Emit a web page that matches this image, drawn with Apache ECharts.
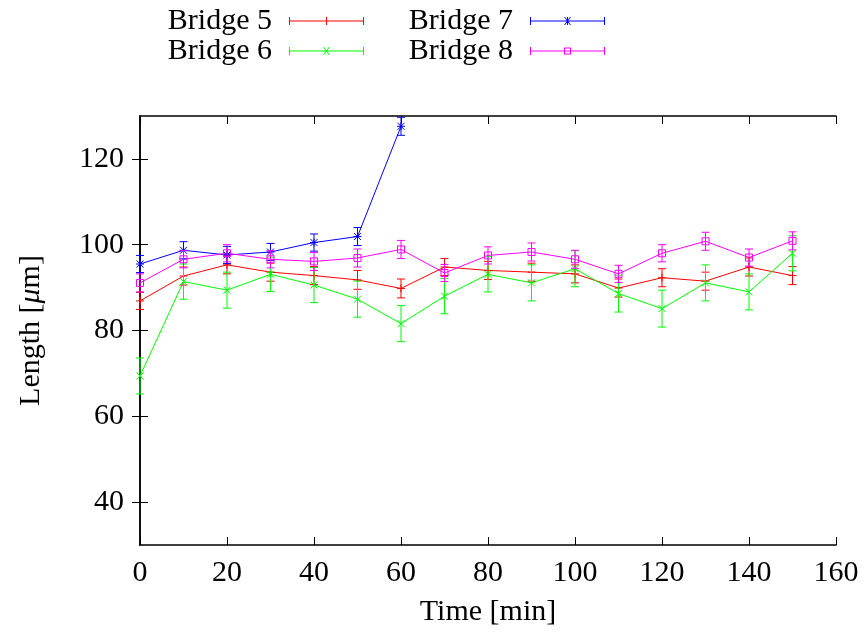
<!DOCTYPE html>
<html>
<head>
<meta charset="utf-8">
<script src="https://cdn.jsdelivr.net/npm/echarts@6/dist/echarts.min.js"></script>
<style>
  html, body { margin: 0; padding: 0; background: #fff; }
  #chart { width: 866px; height: 632px; }
</style>
</head>
<body>
<div id="chart"></div>
<script>
// Sampling times [min]
const time = [0, 10, 20, 30, 40, 50, 60, 70, 80, 90, 100, 110, 120, 130, 140, 150];

// Bridge lengths [µm] and their error bars
const bridge5Len = [86.9, 92.7, 95.3, 93.6, 92.8, 91.8, 89.8, 94.8, 94.0, 93.6, 93.2, 89.9, 92.3, 91.5, 94.8, 92.8];
const bridge5Err = [2.0, 2.1, 2.1, 2.1, 2.1, 2.2, 2.2, 2.0, 2.1, 2.1, 2.1, 2.1, 2.1, 2.1, 2.1, 2.1];

const bridge6Len = [69.4, 91.4, 89.4, 93.1, 90.6, 87.3, 81.6, 88.0, 93.1, 91.1, 94.4, 88.6, 85.1, 91.1, 89.0, 98.0];
const bridge6Err = [4.2, 4.1, 4.2, 4.0, 4.1, 4.2, 4.2, 4.1, 4.1, 4.2, 4.2, 4.3, 4.3, 4.2, 4.2, 4.1];

const bridge7Time = [0, 10, 20, 30, 40, 50, 60];
const bridge7Len = [95.5, 98.7, 97.6, 98.3, 100.5, 101.9, 127.6];
const bridge7Err = [2.0, 2.0, 2.0, 2.0, 2.0, 2.1, 2.1];

const bridge8Len = [91.1, 96.6, 98.0, 96.6, 96.1, 96.9, 98.9, 93.4, 97.5, 98.3, 96.6, 93.2, 98.0, 100.8, 97.0, 100.9];
const bridge8Err = [2.1, 2.0, 2.0, 2.0, 2.1, 2.1, 2.1, 2.0, 2.0, 2.1, 2.1, 2.0, 2.0, 2.1, 2.0, 2.1];

const yTickValues = [40, 60, 80, 100, 120];

const FONT = '"Liberation Serif", "Times New Roman", serif';
const FS = 30;

// Legend sample glyphs: error-bar line with end caps and the point marker
const BAR = 'M0 3.5H75V4.5H0Z M0 0H1V8H0Z M74 0H75V8H74Z';
const PLUS = 'M37 0H38V8H37Z';
const CROSS = 'M34 0L35 0L41 8L40 8Z M40 0L41 0L35 8L34 8Z';
const SQUARE = 'M34 0.5H41V7.5H34Z M35 1.5V6.5H40V1.5Z';
const icons = {
  plus: 'path://' + BAR + ' ' + PLUS,
  cross: 'path://' + BAR + ' ' + CROSS,
  star: 'path://' + BAR + ' ' + PLUS + ' ' + CROSS,
  square: 'path://' + BAR + ' ' + SQUARE
};

const series = [
  { name: 'Bridge 5', color: '#ff0000', t: time, v: bridge5Len, e: bridge5Err, marker: 'plus' },
  { name: 'Bridge 6', color: '#00ff00', t: time, v: bridge6Len, e: bridge6Err, marker: 'cross' },
  { name: 'Bridge 7', color: '#0000ff', t: bridge7Time, v: bridge7Len, e: bridge7Err, marker: 'star' },
  { name: 'Bridge 8', color: '#ff00ff', t: time, v: bridge8Len, e: bridge8Err, marker: 'square' }
];

function markerShapes(kind, x, y, color) {
  const s = 4;
  const st = { stroke: color, lineWidth: 1, fill: null };
  const out = [];
  const ln = (x1, y1, x2, y2) => out.push({ type: 'line', shape: { x1, y1, x2, y2 }, style: st });
  if (kind === 'plus' || kind === 'star') {
    ln(x - s, y, x + s, y);
    ln(x, y - s, x, y + s);
  }
  if (kind === 'cross' || kind === 'star') {
    ln(x - s + 0.5, y - s + 0.5, x + s - 0.5, y + s - 0.5);
    ln(x - s + 0.5, y + s - 0.5, x + s - 0.5, y - s + 0.5);
  }
  if (kind === 'square') {
    out.push({ type: 'rect', shape: { x: x - 3.5, y: y - 3.5, width: 7, height: 7 }, style: st });
  }
  return out;
}

function errorBarRenderer(color, marker) {
  return function (params, api) {
    const t = api.value(0), v = api.value(1), e = api.value(2);
    const c = api.coord([t, v]);
    const lo = api.coord([t, v - e]);
    const hi = api.coord([t, v + e]);
    const cap = 4;
    const st = { stroke: color, lineWidth: 1 };
    const children = [
      { type: 'line', shape: { x1: c[0], y1: lo[1], x2: c[0], y2: hi[1] }, style: st },
      { type: 'line', shape: { x1: c[0] - cap, y1: lo[1], x2: c[0] + cap, y2: lo[1] }, style: st },
      { type: 'line', shape: { x1: c[0] - cap, y1: hi[1], x2: c[0] + cap, y2: hi[1] }, style: st }
    ].concat(markerShapes(marker, c[0], c[1], color));
    return { type: 'group', children };
  };
}

const chartSeries = [];
series.forEach(s => {
  chartSeries.push({
    name: s.name,
    type: 'line',
    xAxisIndex: 0,
    yAxisIndex: 0,
    data: s.t.map((t, i) => [t, s.v[i]]),
    showSymbol: false,
    symbol: 'none',
    itemStyle: { color: s.color },
    lineStyle: { color: s.color, width: 1 },
    animation: false,
    z: 2
  });
  chartSeries.push({
    name: s.name,
    type: 'custom',
    xAxisIndex: 0,
    yAxisIndex: 0,
    data: s.t.map((t, i) => [t, s.v[i], s.e[i]]),
    encode: { x: 0, y: 1 },
    itemStyle: { color: s.color },
    renderItem: errorBarRenderer(s.color, s.marker),
    animation: false,
    z: 3
  });
});

function legendItem(s) {
  return { name: s.name, icon: icons[s.marker], itemStyle: { color: s.color, borderWidth: 0 } };
}

const legendCommon = {
  orient: 'vertical',
  align: 'right',
  top: 6,
  itemWidth: 75,
  itemHeight: 8,
  itemGap: 0,
  padding: 0,
  selectedMode: false,
  textStyle: { fontFamily: FONT, fontSize: FS, color: '#000', lineHeight: 28, padding: [0, 12, 0, 0] }
};

const axisLineStyle = { lineStyle: { color: '#000', width: 1.5 } };
const tickStyle = { inside: true, length: 8, lineStyle: { color: '#000', width: 1 } };

const option = {
  backgroundColor: '#fff',
  animation: false,
  grid: { left: 140, right: 30, top: 116, bottom: 86 },
  legend: [
    Object.assign({}, legendCommon, { right: 502, data: [legendItem(series[0]), legendItem(series[1])] }),
    Object.assign({}, legendCommon, { right: 261, data: [legendItem(series[2]), legendItem(series[3])] })
  ],
  xAxis: [
    {
      type: 'value', position: 'bottom', min: 0, max: 160, interval: 20,
      name: 'Time [min]', nameLocation: 'middle', nameGap: 52,
      nameTextStyle: { fontFamily: FONT, fontSize: FS, color: '#000' },
      axisLine: axisLineStyle, axisTick: tickStyle,
      axisLabel: { fontFamily: FONT, fontSize: FS, color: '#000', margin: 13 },
      splitLine: { show: false }
    },
    {
      type: 'value', position: 'top', min: 0, max: 160, interval: 20,
      axisLine: axisLineStyle, axisTick: tickStyle,
      axisLabel: { show: false }, splitLine: { show: false }
    }
  ],
  yAxis: [
    {
      type: 'value', position: 'left', min: 30, max: 130,
      name: 'Length [{i|μ}m]', nameLocation: 'middle', nameGap: 94, nameRotate: 90,
      nameTextStyle: {
        fontFamily: FONT, fontSize: FS, color: '#000',
        rich: { i: { fontFamily: FONT, fontSize: FS, fontStyle: 'italic', color: '#000' } }
      },
      axisLine: axisLineStyle,
      axisTick: Object.assign({}, tickStyle, { customValues: yTickValues }),
      axisLabel: { fontFamily: FONT, fontSize: FS, color: '#000', margin: 16, customValues: yTickValues },
      splitLine: { show: false }
    },
    {
      type: 'value', position: 'right', min: 30, max: 130,
      axisLine: axisLineStyle,
      axisTick: Object.assign({}, tickStyle, { customValues: yTickValues }),
      axisLabel: { show: false, customValues: yTickValues },
      splitLine: { show: false }
    }
  ],
  series: chartSeries
};

const chart = echarts.init(document.getElementById('chart'), null, { renderer: 'canvas' });
chart.setOption(option);
</script>
</body>
</html>
